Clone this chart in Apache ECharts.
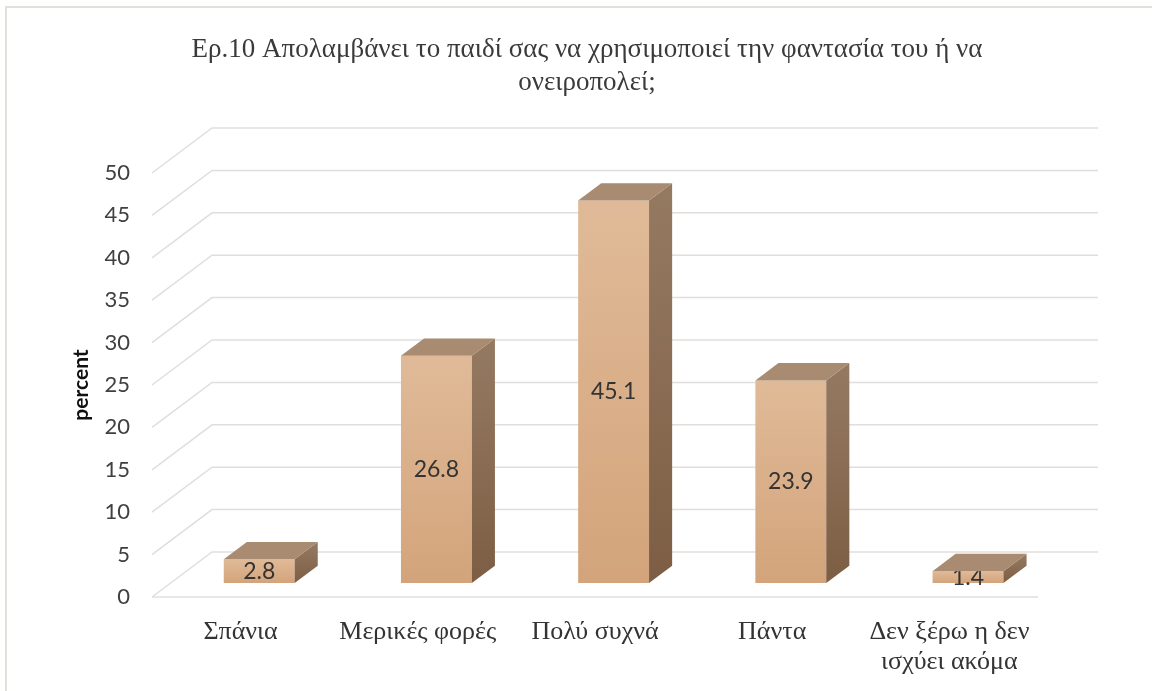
<!DOCTYPE html>
<html>
<head>
<meta charset="utf-8">
<script src="https://cdn.jsdelivr.net/npm/echarts@6/dist/echarts.min.js"></script>
<style>
html,body{margin:0;padding:0;background:#fff;}
#chart{width:1152px;height:691px;}
</style>
</head>
<body>
<div id="chart"></div>
<script>
const titleText = "Ερ.10 Απολαμβάνει το παιδί σας να χρησιμοποιεί την φαντασία του ή να\nονειροπολεί;";
const categories = ["Σπάνια", "Μερικές φορές", "Πολύ συχνά", "Πάντα", "Δεν ξέρω η δεν ισχύει ακόμα"];
const values = [2.8, 26.8, 45.1, 23.9, 1.4];
const yTicks = [0, 5, 10, 15, 20, 25, 30, 35, 40, 45, 50];
const yAxisName = "percent";

// 3D styling constants
const DX = 60, DY = -45;          // full floor depth offset
const F0 = 0.31, F1 = 0.695;      // bar front/back depth fractions
const BAR_W = 0.4;                // bar width relative to category band

function wrapLabel(s) {
  const words = s.split(' ');
  const lines = [];
  let cur = '';
  words.forEach(w => {
    const t = cur ? cur + ' ' + w : w;
    if (t.length > 15 && cur) { lines.push(cur); cur = w; } else { cur = t; }
  });
  if (cur) lines.push(cur);
  return lines.join('\n');
}

const chart = echarts.init(document.getElementById('chart'));

function gridRender(params, api) {
  const r = params.coordSys;
  const v = api.value(0);
  const y = api.coord([0, v])[1];
  const children = [{
    type: 'polyline',
    shape: { points: [[r.x, y], [r.x + DX, y + DY], [r.x + r.width + DX, y + DY]] },
    style: { stroke: '#E2DEDB', lineWidth: 1.5, fill: null }
  }];
  if (v === 0) {
    children.push({
      type: 'line',
      shape: { x1: r.x, y1: y, x2: r.x + r.width, y2: y },
      style: { stroke: '#E2DEDB', lineWidth: 1.5 }
    });
  }
  return { type: 'group', children };
}

function barRender(params, api) {
  const idx = api.value(0), v = api.value(1);
  const base = api.coord([idx, 0]);
  const top = api.coord([idx, v]);
  const bw = api.size([1, 0])[0] * BAR_W;
  const xL = base[0] - bw / 2 + DX * F0;
  const xR = xL + bw;
  const yB = base[1] + DY * F0;
  const yT = top[1] + DY * F0;
  const ddx = DX * (F1 - F0), ddy = DY * (F1 - F0);
  return {
    type: 'group',
    children: [
      {
        type: 'rect',
        shape: { x: xL, y: yT, width: bw, height: yB - yT },
        style: {
          fill: new echarts.graphic.LinearGradient(0, 0, 0, 1, [
            { offset: 0, color: '#E0BA98' }, { offset: 1, color: '#D3A47B' }
          ])
        }
      },
      {
        type: 'polygon',
        shape: { points: [[xR, yT], [xR + ddx, yT + ddy], [xR + ddx, yB + ddy], [xR, yB]] },
        style: {
          fill: new echarts.graphic.LinearGradient(0, 0, 0, 1, [
            { offset: 0, color: '#957A62' }, { offset: 1, color: '#7D5E44' }
          ])
        }
      },
      {
        type: 'text',
        style: {
          text: String(v),
          x: (xL + xR) / 2, y: (yT + yB) / 2,
          align: 'center', verticalAlign: 'middle',
          font: '23px Lato', fill: '#333333'
        }
      },
      {
        type: 'polygon',
        shape: { points: [[xL, yT], [xL + ddx, yT + ddy], [xR + ddx, yT + ddy], [xR, yT]] },
        style: { fill: '#A88B70' }
      }
    ]
  };
}

chart.setOption({
  animation: false,
  backgroundColor: '#ffffff',
  title: {
    text: titleText,
    left: 582, top: 28, textAlign: 'center',
    textStyle: { fontFamily: 'Liberation Serif', fontSize: 27, fontWeight: 'normal', color: '#3A3A3A', lineHeight: 33 }
  },
  graphic: [{
    type: 'rect', silent: true, z: -10,
    shape: { x: 6, y: 7, width: 1300, height: 800 },
    style: { fill: null, stroke: '#E3DFDB', lineWidth: 2 }
  }],
  grid: { left: 152, right: 114, top: 173, bottom: 94, containLabel: false, outerBoundsMode: 'none' },
  xAxis: {
    type: 'category', data: categories,
    axisLine: { show: false }, axisTick: { show: false },
    axisLabel: {
      interval: 0, margin: 20, fontFamily: 'Liberation Serif', fontSize: 26, color: '#333333',
      lineHeight: 30, formatter: wrapLabel
    }
  },
  yAxis: {
    type: 'value', min: 0, max: 50, interval: 5,
    name: yAxisName, nameLocation: 'middle', nameGap: 60,
    nameTextStyle: { fontFamily: 'Lato', fontSize: 21, fontWeight: 'bold', color: '#111111' },
    axisLine: { show: false }, axisTick: { show: false }, splitLine: { show: false },
    axisLabel: { margin: 22, fontFamily: 'Lato', fontSize: 22, color: '#404040', padding: [6, 0, 0, 0] }
  },
  series: [
    {
      type: 'custom', z: 1, silent: true,
      renderItem: gridRender,
      data: yTicks.map(v => [v])
    },
    {
      type: 'custom', z: 2,
      renderItem: barRender,
      data: values.map((v, i) => [i, v])
    }
  ]
});
</script>
</body>
</html>
